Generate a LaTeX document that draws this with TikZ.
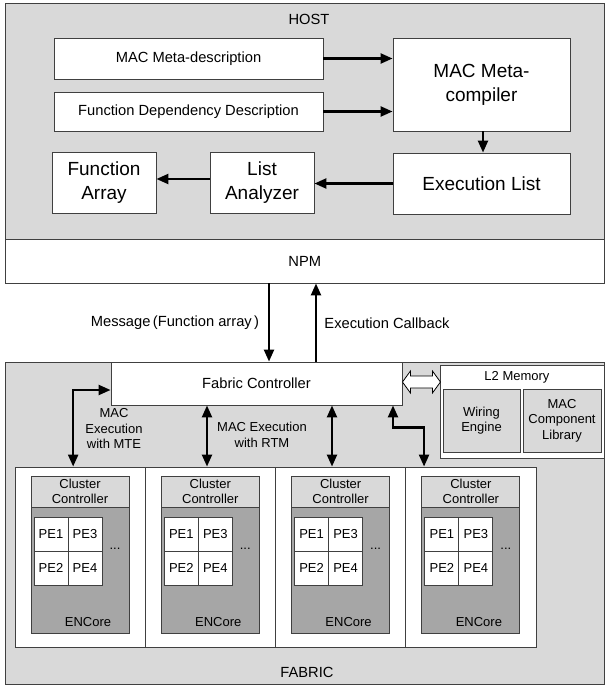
\documentclass[tikz,border=0pt]{standalone}
\usepackage{fontspec}
\setmainfont{Liberation Sans}
\usetikzlibrary{arrows.meta,calc}
\definecolor{panel}{HTML}{D9D9D9}
\definecolor{core}{HTML}{A6A6A6}
\definecolor{edge}{HTML}{404040}
\begin{document}
\begin{tikzpicture}[x=1pt,y=-1pt,semithick]
\tikzset{every node/.style={inner sep=0pt}}
\tikzstyle{box}=[draw=edge,fill=white,line width=0.9pt,align=center]
\tikzstyle{panelbox}=[box,fill=panel]
\tikzstyle{corebox}=[box,fill=core]
\tikzstyle{small}=[font=\fontsize{14.7}{17}\selectfont,align=center]
\tikzstyle{big}=[font=\fontsize{19}{24}\selectfont]
\tikzstyle{tiny}=[font=\fontsize{13}{15.5}\selectfont,align=center]
\tikzstyle{link}=[draw=black,line width=2.3pt,-{Triangle[length=12pt,width=10pt]}]
\tikzstyle{dlink}=[draw=black,line width=2.3pt,{Triangle[length=12pt,width=10pt]}-{Triangle[length=12pt,width=10pt]}]
\tikzstyle{hollow}=[draw=black,fill=white,line width=0.8pt,line join=miter]
\useasboundingbox (0,0) rectangle (605,688);
% host
\node[panelbox,minimum width=598.5pt,minimum height=235.5pt] (host) at (304.75,121.25) {};
\node[small] (hostlbl) at (309,19) {HOST};
\node[box,small,minimum width=269pt,minimum height=41pt] (meta) at (188.5,58.5) {MAC Meta-description};
\node[box,small,minimum width=269pt,minimum height=39pt] (fdd) at (188.5,111.5) {Function Dependency Description};
\node[box,big,minimum width=177pt,minimum height=93pt] (comp) at (481.5,84.5) {MAC Meta-\\compiler};
\node[box,big,minimum width=177pt,minimum height=61pt] (exec) at (481.5,183.5) {Execution List};
\node[box,big,minimum width=104pt,minimum height=61pt] (la) at (262,183) {List\\Analyzer};
\node[box,big,minimum width=104pt,minimum height=61pt] (fa) at (104,183) {Function\\Array};
\node[box,small,minimum width=598.5pt,minimum height=44pt] (npm) at (304.75,261) {NPM};
\draw[link] (meta.east) -- (meta.east -| comp.west);
\draw[link] (fdd.east) -- (fdd.east -| comp.west);
\draw[link] ([xshift=1.5pt]comp.south) -- ([xshift=1.5pt]exec.north);
\draw[link] (exec.west) -- (exec.west -| la.east);
\draw[link] ([yshift=4pt]la.west) -- ([yshift=4pt]fa.east);
% fabric
\node[panelbox,minimum width=598.5pt,minimum height=322pt] (fabric) at (304.75,523) {};
\node[small] (fabriclbl) at (307,672) {FABRIC};
\node[box,small,minimum width=291pt,minimum height=43pt] (fc) at (256.5,383.5) {Fabric Controller};
\node[box,minimum width=164pt,minimum height=93pt] (l2) at (522,411.5) {};
\node[tiny] (l2lbl) at (517,377) {L2 Memory};
\node[panelbox,tiny,minimum width=77pt,minimum height=63pt] (wire) at (481.5,420.5) {Wiring\\Engine};
\node[panelbox,tiny,minimum width=78pt,minimum height=63pt] (lib) at (562,420.5) {MAC\\Component\\Library};
\foreach \i in {1,...,4}{
  \pgfmathsetmacro\L{15+130.3*(\i-1)}
  \node[box,minimum width=130.3pt,minimum height=180pt] (clu\i) at (\L+65.15,557) {};
  \node[panelbox,tiny,minimum width=98pt,minimum height=31pt] (cc\i) at (\L+65,491.5) {Cluster\\Controller};
  \node[corebox,minimum width=98pt,minimum height=126pt] (enc\i) at (\L+65,570) {};
  \node[tiny] (enclbl\i) at (\L+73,622) {ENCore};
  \node[box,tiny,minimum size=34pt] (pea\i) at (\L+36,534) {PE1};
  \node[box,tiny,minimum size=34pt] (pec\i) at (\L+70,534) {PE3};
  \node[box,tiny,minimum size=34pt] (peb\i) at (\L+36,568) {PE2};
  \node[box,tiny,minimum size=34pt] (ped\i) at (\L+70,568) {PE4};
  \node[tiny] (dots\i) at (\L+100,549) {...};
}
\draw[link] ([xshift=-35.75pt]npm.south) -- ([xshift=12.5pt]fc.north);
\draw[link] ([xshift=59.5pt]fc.north) -- ([xshift=11.25pt]npm.south);
\node[small] (msglbl) at (175,323) {Message\,(Function array\,)};
\node[small] (cblbl) at (387,323) {Execution Callback};
\draw[dlink] ([xshift=-7pt]clu1.north) |- ([yshift=-6.5pt]fc.west);
\node[tiny] (mtelbl) at (114,429) {MAC\\Execution\\with MTE};
\draw[dlink] ([xshift=-49.5pt]fc.south) -- ([xshift=-3.45pt]clu2.north);
\node[tiny] (rtmlbl) at (262,435) {MAC Execution\\with RTM};
\draw[dlink] ([xshift=75.5pt]fc.south) -- ([xshift=-8.75pt]clu3.north);
\draw[dlink] ([xshift=136.5pt]fc.south) -- ++(0,22) -| ([xshift=-47pt]clu4.north);
\draw[hollow] ($(fc.east)+(0,-1.5)$) -- ++(8,-11) -- ++(0,5) -- ++(22,0) -- ++(0,-5)
  -- ++(8,11) -- ++(-8,11) -- ++(0,-5) -- ++(-22,0) -- ++(0,5) -- cycle;
\end{tikzpicture}
\end{document}
